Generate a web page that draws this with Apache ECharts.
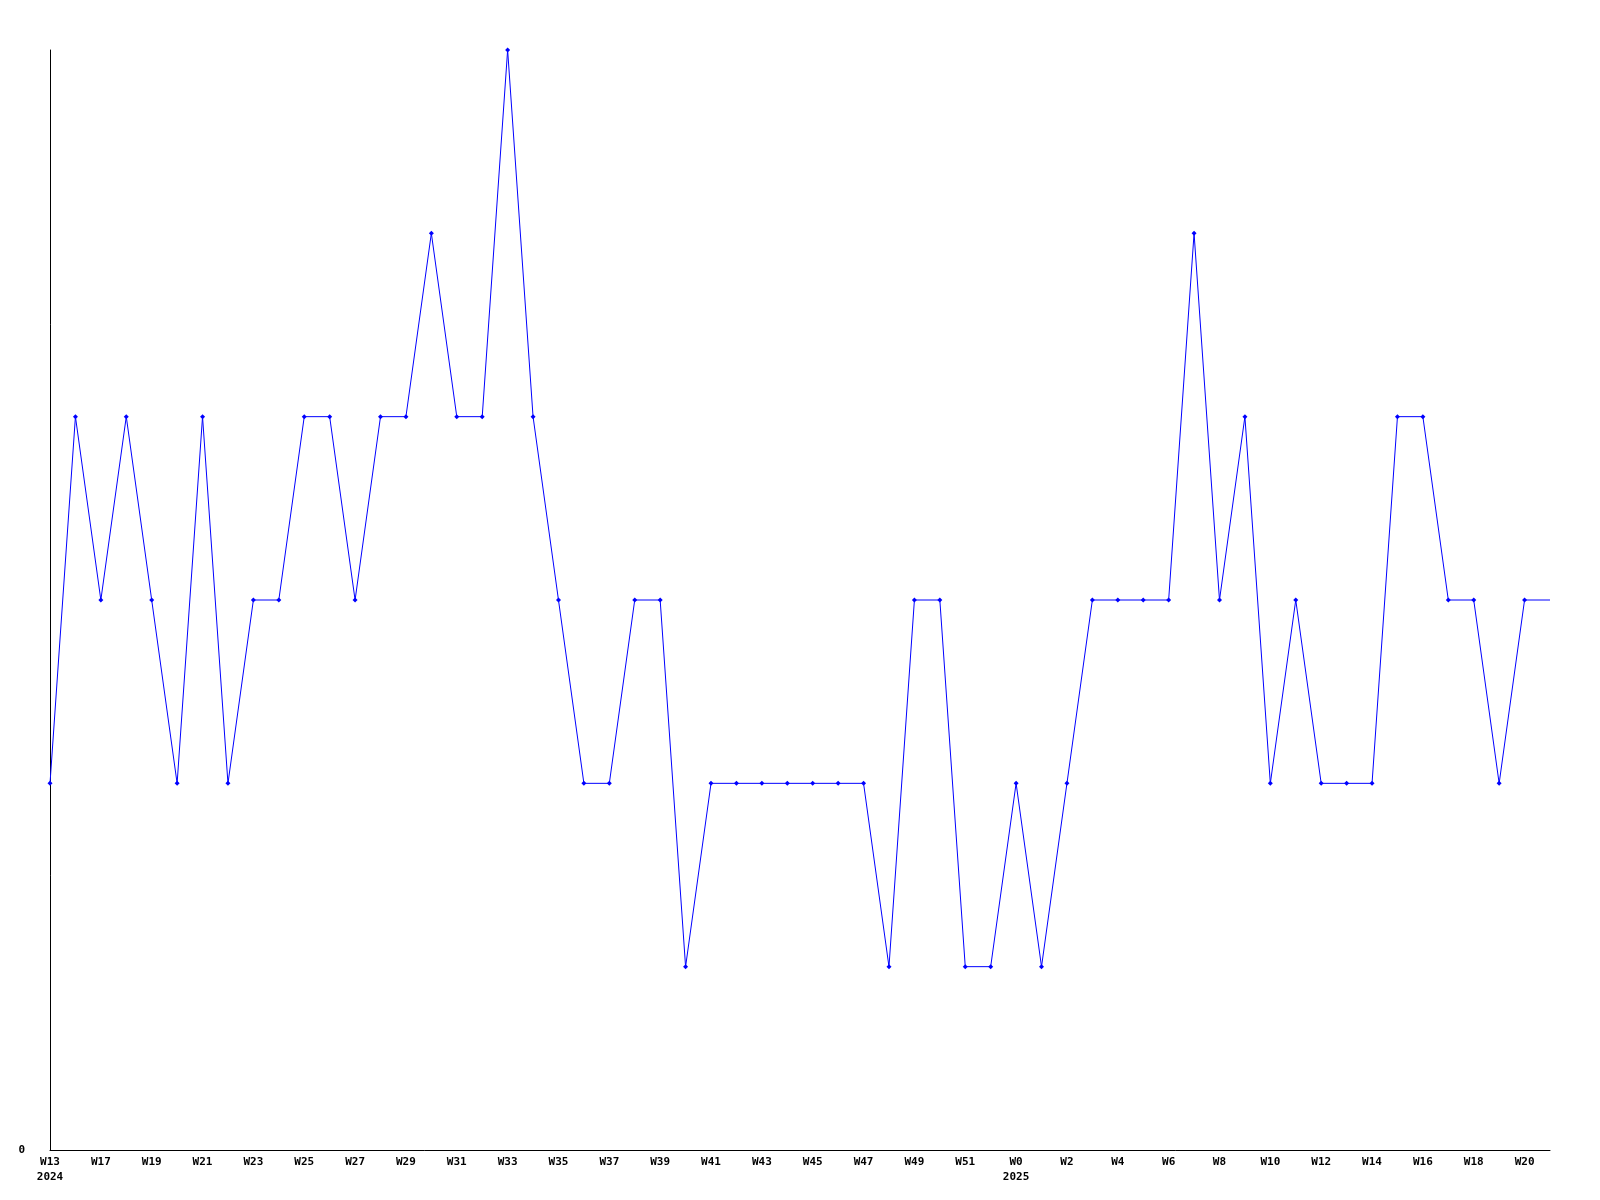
<!DOCTYPE html>
<html><head><meta charset="utf-8">
<script src="https://cdn.jsdelivr.net/npm/echarts@6/dist/echarts.min.js"></script>
<style>html,body{margin:0;padding:0;background:#fff}#c{width:1600px;height:1200px}</style>
</head><body><div id="c"></div>
<script>
const categories = ["W13\n2024","W16","W17","W18","W19","W20","W21","W22","W23","W24","W25","W26","W27","W28","W29","W30","W31","W32","W33","W34","W35","W36","W37","W38","W39","W40","W41","W42","W43","W44","W45","W46","W47","W48","W49","W50","W51","W52","W0\n2025","W1","W2","W3","W4","W5","W6","W7","W8","W9","W10","W11","W12","W13","W14","W15","W16","W17","W18","W19","W20","W21"];
const values = [2,4,3,4,3,2,4,2,3,3,4,4,3,4,4,5,4,4,6,4,3,2,2,3,3,1,2,2,2,2,2,2,2,1,3,3,1,1,2,1,2,3,3,3,3,5,3,4,2,3,2,2,2,4,4,3,3,2,3,3];
const yTickLabels = ["0"];

const font = {fontFamily: '"DejaVu Sans Mono", monospace', fontWeight: 'bold', fontSize: 11, color: '#000'};
const chart = echarts.init(document.getElementById('c'));
chart.setOption({
  animation: false,
  grid: {left: 50, right: 50, top: 50, bottom: 50},
  xAxis: {
    type: 'category', data: categories, boundaryGap: false,
    axisLine: {lineStyle: {color: '#000', width: 1}},
    axisTick: {show: false},
    axisLabel: Object.assign({interval: 1, margin: 5, lineHeight: 15, verticalAlign: 'top'}, font),
    splitLine: {show: false}
  },
  yAxis: {
    type: 'value', min: 0, max: 6, interval: 1,
    axisLine: {show: true, lineStyle: {color: '#000', width: 1}},
    axisTick: {show: false},
    splitLine: {show: false},
    axisLabel: Object.assign({margin: 25, formatter: v => v === 0 ? yTickLabels[0] : ''}, font)
  },
  series: [{
    type: 'line',
    data: values.map((v, i) => i === values.length - 1 ? {value: v, symbol: 'none'} : v),
    symbol: 'diamond', symbolSize: 5, showAllSymbol: true,
    lineStyle: {color: '#0000ff', width: 1},
    itemStyle: {color: '#0000ff'}
  }]
});
</script></body></html>
